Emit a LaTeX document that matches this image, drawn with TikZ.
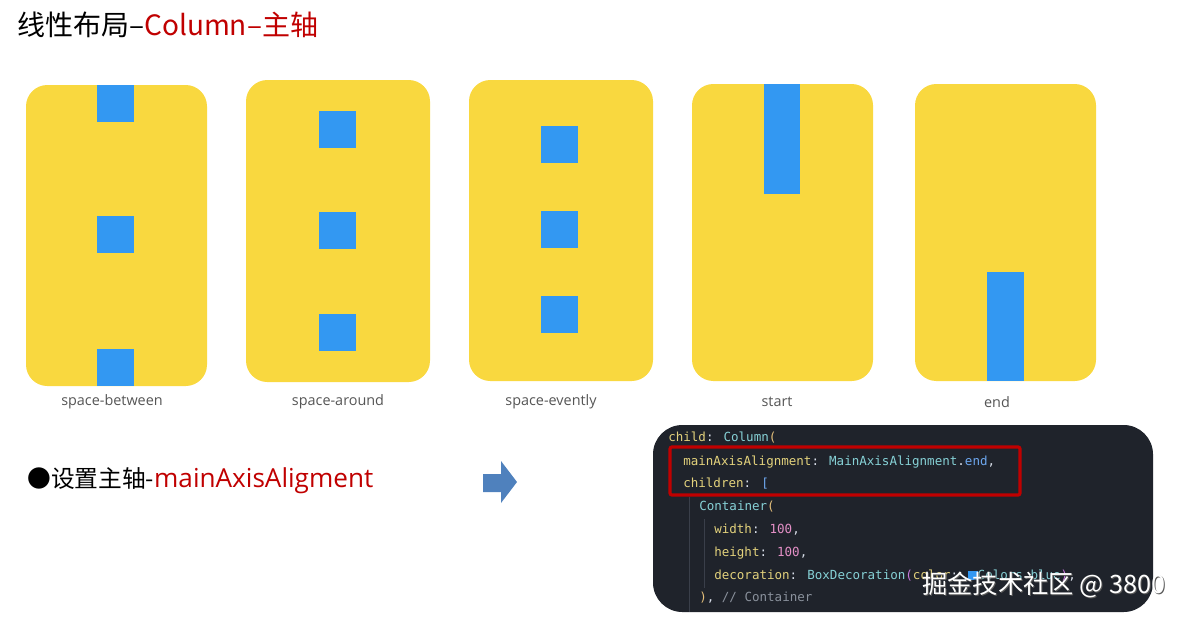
\documentclass[tikz,border=0pt]{standalone}
\usepackage{fontspec}
\setmainfont{Noto Sans CJK SC}
\newfontfamily\codefont{DejaVu Sans Mono}
\newfontfamily\latinfont{Open Sans}
\usepackage{tikz}
\usetikzlibrary{positioning}
\definecolor{flyellow}{HTML}{F9D83F}
\definecolor{flblue}{HTML}{3398F2}
\definecolor{fred}{HTML}{C00000}
\definecolor{capgray}{HTML}{555555}
\definecolor{arrowblue}{HTML}{4F81BD}
\definecolor{codebg}{HTML}{1F232B}
\definecolor{ckey}{HTML}{E3D27C}
\definecolor{ctype}{HTML}{86D1D6}
\definecolor{cblue}{HTML}{6EA8F0}
\definecolor{cnum}{HTML}{E38FC6}
\definecolor{cparen}{HTML}{E5C07B}
\definecolor{cmag}{HTML}{C678DD}
\definecolor{cplain}{HTML}{D8DEE9}
\definecolor{ccomment}{HTML}{8A919C}
\definecolor{cguide}{HTML}{3A3F4A}

\begin{document}
\begin{tikzpicture}[x=0.75pt, y=-0.75pt,
  panel/.style={fill=flyellow, rounded corners=16pt},
  block/.style={fill=flblue},
  caption/.style={font=\latinfont\fontsize{10.8}{13}\selectfont, text=capgray, inner sep=0pt},
  heading/.style={font=\fontsize{21}{24}\selectfont, anchor=west, inner sep=0pt},
  bullet/.style={font=\fontsize{17.8}{21}\selectfont, anchor=west, inner sep=0pt},
  codeline/.style={font=\codefont\fontsize{9.4}{11}\selectfont, anchor=west,
                   inner sep=0pt, text=cplain},
  guide/.style={draw=cguide, line width=0.6pt},
  highlight/.style={draw=fred, line width=2.4pt, rounded corners=1.5pt},
  blockarrow/.style={fill=arrowblue},
  stamp/.style={font=\fontsize{19}{22}\selectfont, anchor=east, inner sep=0pt},
]
  \useasboundingbox (0,0) rectangle (1184,619);

  % Title.
  \node[heading] (title) at (17,25) {线性布局–\textcolor{fred}{Column–主轴}};

  % space-between.
  \fill[panel] (26,85) rectangle (207,386);
  \fill[block] (97,85) rectangle (134,122);
  \fill[block] (97,216) rectangle (134,253);
  \fill[block] (97,349) rectangle (134,386);
  \node[caption] (between) at (112,402) {space-between};

  % space-around.
  \fill[panel] (246,80) rectangle (430,382);
  \fill[block] (319,111) rectangle (356,148);
  \fill[block] (319,212) rectangle (356,249);
  \fill[block] (319,314) rectangle (356,351);
  \node[caption] (around) at (338,402) {space-around};

  % space-evently.
  \fill[panel] (469,80) rectangle (653,381);
  \fill[block] (541,126) rectangle (578,163);
  \fill[block] (541,211) rectangle (578,248);
  \fill[block] (541,296) rectangle (578,333);
  \node[caption] (evently) at (551,402) {space-evently};

  % start.
  \fill[panel] (692,84) rectangle (873,381);
  \fill[block] (764,84) rectangle (800,194);
  \node[caption] (start) at (777,402) {start};

  % end.
  \fill[panel] (915,84) rectangle (1096,381);
  \fill[block] (987,272) rectangle (1024,381);
  \node[caption] (end) at (997,402) {end};

  % Bullet and arrow.
  \node[bullet] (setaxis) at (27,481) {●设置主轴-\textcolor{fred}{\latinfont\fontsize{19.6}{21}\selectfont mainAxisAligment}};
  \fill[blockarrow] (483,474) -- (501,474) -- (501,461) -- (517,482)
                    -- (501,503) -- (501,492) -- (483,492) -- cycle;

  % Code snippet.
  \fill[codebg, rounded corners=22pt] (653,425) rectangle (1153,612);
  \draw[guide] (689,497) -- (689,612);
  \draw[guide] (704,519) -- (704,588);
  \node[codeline] (l1) at (668,438) {\textcolor{ckey}{child}: \textcolor{ctype}{Column}\textcolor{cparen}{(}};
  \node[codeline] (l2) at (683,462) {\textcolor{ckey}{mainAxisAlignment}: \textcolor{ctype}{MainAxisAlignment}.\textcolor{cblue}{end},};
  \node[codeline] (l3) at (683,484) {\textcolor{ckey}{children}: \textcolor{cblue}{[}};
  \node[codeline] (l4) at (699,507) {\textcolor{ctype}{Container}\textcolor{cparen}{(}};
  \node[codeline] (l5) at (714,530) {\textcolor{ckey}{width}: \textcolor{cnum}{100},};
  \node[codeline] (l6) at (714,553) {\textcolor{ckey}{height}: \textcolor{cnum}{100},};
  \node[codeline] (l7) at (714,576) {\textcolor{ckey}{decoration}: \textcolor{ctype}{BoxDecoration}\textcolor{cmag}{(}\textcolor{ckey}{color}: \textcolor{flblue}{\rule{0.75em}{0.75em}}\textcolor{ctype}{Colors}.\textcolor{ctype}{blue}\textcolor{cmag}{)},};
  \node[codeline] (l8) at (699,598) {\textcolor{cparen}{)}, \textcolor{ccomment}{// Container}};
  \draw[highlight] (670,447) rectangle (1020,495);

  % Watermark.
  \node[stamp, text=gray!70!black] (stampshadow) at (1167,586) {掘金技术社区 @ 3800};
  \node[stamp, text=white] (watermark) at (1166,585) {掘金技术社区 @ 3800};
\end{tikzpicture}
\end{document}
